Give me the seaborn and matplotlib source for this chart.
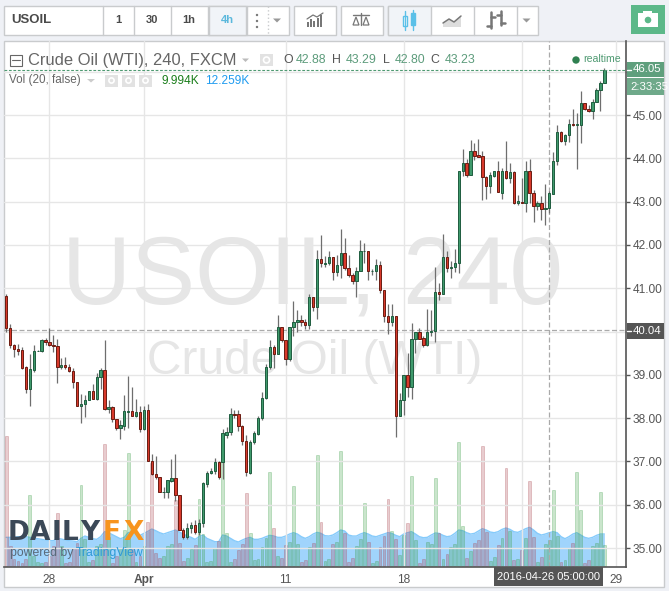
import numpy as np
import pandas as pd
import matplotlib
matplotlib.use("Agg")
import matplotlib.pyplot as plt
from matplotlib.patches import Rectangle, Circle, Polygon
import seaborn as sns

# candles, 4h bars
opens = [40.82, 40.08, 39.68, 39.59, 39.57, 39.18, 38.67, 39.12, 39.55, 39.55,
         39.80, 39.75, 39.68, 39.66, 39.19, 39.22, 39.18, 39.08, 38.83, 38.29,
         38.32, 38.42, 38.62, 38.45, 38.95, 39.11, 38.22, 38.25, 37.97, 37.77,
         37.83, 38.15, 38.16, 38.04, 38.14, 37.76, 38.18, 37.02, 36.72, 36.65,
         36.29, 36.29, 36.55, 36.63, 36.23, 35.42, 35.25, 35.47, 35.53, 35.36,
         35.58, 36.49, 36.74, 36.79, 36.98, 36.98, 37.62, 37.67, 38.09, 38.09,
         37.83, 37.48, 36.74, 37.46, 37.63, 38.00, 38.46, 39.19, 39.64, 39.49,
         40.10, 39.80, 39.36, 40.10, 40.22, 40.27, 40.22, 40.16, 40.80, 40.57,
         41.68, 41.57, 41.58, 41.72, 41.37, 41.54, 41.81, 41.47, 41.30, 41.16,
         41.41, 41.85, 41.86, 41.39, 41.39, 41.54, 40.95, 40.35, 40.23, 40.35,
         38.06, 38.41, 38.99, 38.72, 39.83, 39.98, 39.85, 39.68, 40.00, 40.02,
         40.91, 40.86, 41.72, 41.46, 41.48, 41.58, 43.70, 43.89, 43.62, 44.16,
         44.07, 44.05, 43.56, 43.36, 43.60, 43.70, 43.21, 43.70, 43.54, 43.68,
         42.96, 43.00, 42.98, 43.70, 43.19, 42.89, 42.97, 42.84, 42.85, 43.18,
         43.93, 44.60, 44.39, 44.53, 44.79, 44.77, 44.78, 45.27, 45.15, 45.10,
         45.31, 45.59, 45.75]
closes = [40.08, 39.68, 39.59, 39.56, 39.17, 38.67, 39.13, 39.55, 39.56, 39.80,
          39.75, 39.68, 39.66, 39.19, 39.22, 39.18, 39.08, 38.83, 38.29, 38.32,
          38.42, 38.62, 38.45, 38.95, 39.11, 38.22, 38.25, 37.97, 37.77, 37.84,
          38.16, 38.17, 38.04, 38.14, 37.76, 38.18, 37.02, 36.71, 36.64, 36.29,
          36.30, 36.57, 36.63, 36.23, 35.42, 35.25, 35.47, 35.53, 35.36, 35.58,
          36.50, 36.74, 36.79, 36.98, 36.64, 37.66, 37.67, 38.10, 38.08, 37.83,
          37.48, 36.76, 37.46, 37.65, 38.00, 38.46, 39.19, 39.64, 39.49, 40.10,
          39.80, 39.36, 40.10, 40.22, 40.27, 40.22, 40.16, 40.80, 40.57, 41.68,
          41.58, 41.58, 41.72, 41.37, 41.54, 41.81, 41.47, 41.30, 41.16, 41.41,
          41.86, 41.86, 41.39, 41.40, 41.54, 40.95, 40.35, 40.23, 40.35, 38.06,
          38.41, 38.99, 38.72, 39.83, 39.99, 39.84, 39.68, 40.00, 40.02, 40.91,
          40.86, 41.72, 41.46, 41.49, 41.58, 43.70, 43.89, 43.62, 44.16, 44.06,
          44.04, 43.56, 43.36, 43.61, 43.70, 43.22, 43.70, 43.54, 43.68, 42.96,
          43.01, 42.98, 43.70, 43.19, 42.89, 42.97, 42.84, 42.85, 43.20, 43.93,
          44.60, 44.39, 44.53, 44.79, 44.78, 44.79, 45.27, 45.15, 45.10, 45.31,
          45.59, 45.75, 46.03]
highs = [40.87, 40.18, 39.72, 39.71, 39.65, 39.21, 39.48, 39.68, 39.57, 39.82,
         39.85, 40.08, 39.92, 39.82, 39.38, 39.41, 39.25, 39.15, 38.83, 38.55,
         38.54, 38.63, 38.79, 39.04, 39.15, 39.80, 38.42, 38.27, 37.98, 37.96,
         38.54, 38.97, 38.72, 38.45, 38.29, 38.28, 38.33, 37.17, 37.12, 36.65,
         36.42, 36.57, 37.05, 37.17, 36.23, 35.46, 35.58, 35.60, 35.66, 35.67,
         36.53, 36.78, 36.86, 37.08, 37.02, 37.74, 37.80, 38.23, 38.20, 38.20,
         37.85, 37.60, 37.50, 37.70, 38.04, 38.60, 39.24, 39.81, 39.70, 40.39,
         40.10, 39.80, 40.10, 40.71, 40.50, 40.39, 40.30, 40.87, 40.80, 41.89,
         42.22, 41.75, 41.87, 41.72, 41.78, 42.37, 42.16, 41.78, 41.36, 41.50,
         42.12, 42.05, 41.86, 41.44, 41.68, 41.63, 40.95, 40.64, 40.64, 40.35,
         38.59, 38.99, 39.50, 40.20, 39.99, 40.09, 39.89, 40.52, 40.50, 41.50,
         41.12, 42.25, 41.87, 41.62, 41.90, 43.70, 44.22, 43.98, 44.42, 44.36,
         44.44, 44.18, 43.60, 43.69, 43.72, 43.94, 43.77, 44.40, 43.89, 43.70,
         43.15, 43.55, 43.94, 43.99, 43.27, 43.01, 43.12, 43.40, 43.24, 44.14,
         44.77, 44.63, 44.56, 44.91, 45.14, 45.04, 45.55, 45.29, 45.23, 45.38,
         45.63, 45.78, 46.08]
lows = [39.98, 39.63, 39.42, 39.46, 39.14, 38.59, 38.29, 39.07, 39.54, 39.53,
        39.68, 39.67, 39.53, 38.82, 39.14, 39.14, 39.06, 38.69, 38.29, 37.88,
        38.02, 38.41, 38.45, 38.41, 38.68, 38.18, 38.12, 37.92, 37.72, 37.53,
        37.72, 37.78, 38.04, 38.02, 37.67, 37.73, 37.00, 36.69, 36.59, 36.29,
        36.16, 36.16, 36.53, 36.09, 35.42, 35.22, 35.22, 35.35, 35.33, 35.30,
        35.49, 36.42, 36.72, 36.71, 36.59, 36.60, 37.54, 37.60, 38.00, 37.70,
        37.38, 36.67, 36.72, 37.40, 37.62, 37.96, 38.44, 39.13, 39.15, 39.49,
        39.77, 39.22, 39.31, 39.89, 39.98, 40.12, 40.07, 40.05, 40.47, 40.28,
        41.50, 41.50, 41.54, 41.20, 41.28, 41.24, 41.43, 41.26, 41.11, 40.81,
        41.41, 41.58, 41.18, 41.30, 41.20, 40.89, 40.21, 39.95, 40.12, 37.57,
        38.06, 38.08, 38.48, 38.44, 39.50, 39.83, 39.65, 39.67, 39.90, 39.75,
        40.73, 40.86, 41.38, 41.24, 41.37, 41.36, 43.60, 43.58, 43.62, 43.96,
        44.04, 43.03, 43.06, 43.20, 43.58, 43.22, 43.07, 43.52, 43.44, 42.94,
        42.92, 42.98, 42.77, 42.98, 42.54, 42.80, 42.58, 42.47, 42.73, 43.18,
        43.84, 44.37, 44.31, 44.37, 44.75, 43.75, 44.36, 45.12, 45.07, 44.91,
        45.30, 45.10, 45.74]

# volume and its average, same units (height in the picture)
volume = [390, 60, 20, 15, 10, 20, 212, 30, 12, 10, 12, 30, 60, 158, 60, 10, 12, 55,
          70, 242, 80, 12, 18, 60, 65, 366, 88, 8, 30, 50, 108, 338, 50, 12, 30, 60,
          131, 308, 40, 25, 30, 60, 65, 198, 70, 15, 25, 50, 62, 201, 95, 12, 15, 55,
          75, 318, 100, 11, 20, 48, 66, 218, 98, 18, 20, 56, 83, 281, 113, 30, 23, 62,
          71, 239, 65, 11, 18, 56, 68, 332, 131, 16, 20, 66, 71, 344, 98, 11, 24, 60,
          80, 188, 71, 8, 16, 56, 90, 200, 104, 80, 32, 92, 128, 269, 78, 8, 21, 71,
          65, 263, 98, 21, 35, 56, 66, 371, 120, 23, 44, 68, 78, 360, 103, 15, 26, 63,
          85, 293, 105, 18, 20, 48, 83, 254, 86, 11, 26, 66, 78, 227, 90, 11, 18, 53,
          68, 281, 168, 8, 18, 60, 68, 221, 62]
vol_ma = [86, 86, 86, 88, 88, 88, 86, 84, 82, 80, 78, 76, 76, 83, 81, 78, 76, 75,
          73, 83, 90, 86, 82, 80, 88, 103, 100, 94, 88, 82, 86, 100, 102, 96, 92, 98,
          104, 111, 106, 100, 96, 100, 104, 108, 102, 96, 90, 86, 80, 88, 93, 83, 78, 73,
          73, 93, 90, 83, 76, 72, 78, 83, 86, 80, 80, 83, 88, 92, 90, 86, 86, 90,
          96, 100, 96, 88, 83, 88, 96, 101, 98, 91, 90, 93, 100, 108, 105, 93, 90, 90,
          96, 100, 96, 90, 88, 92, 96, 100, 98, 92, 88, 96, 100, 103, 96, 88, 85, 86,
          93, 99, 98, 92, 88, 90, 98, 108, 106, 100, 96, 98, 105, 112, 108, 102, 100, 103,
          110, 114, 110, 103, 101, 106, 112, 116, 108, 98, 93, 96, 100, 103, 100, 88, 82, 88,
          96, 100, 93, 86, 83, 86, 92, 96, 96]

price_ticks = [35, 36, 37, 38, 39, 40, 41, 42, 43, 44, 45, 46]
price_labels = ["35.00", "36.00", "37.00", "38.00", "39.00", "", "41.00", "42.00",
                "43.00", "44.00", "45.00", ""]
date_ticks = [11, 35, 71, 101, 131, 155]
date_labels = ["28", "Apr", "11", "18", "", "29"]
last_price = 46.05
cross_price = 40.04
cross_bar = 138

W, H = 669, 591
OUTER = "#eff1f6"
LINE = "#c9cbcd"
TEXT = "#555555"
GREEN_TXT = "#5d9c7c"

sns.set_style("white")
plt.rcParams["font.family"] = ["Liberation Sans", "DejaVu Sans"]

df = pd.DataFrame({"open": opens, "close": closes, "high": highs, "low": lows,
                   "vol": volume, "ma": vol_ma})
df["bar"] = np.arange(len(df))
df["up"] = df["close"] >= df["open"]

fig = plt.figure(figsize=(W / 100, H / 100), dpi=100, facecolor=OUTER)


def pixel_axes(zorder):
    a = fig.add_axes([0, 0, 1, 1], zorder=zorder)
    a.set_xlim(0, W)
    a.set_ylim(H, 0)
    a.axis("off")
    return a


# panel and watermark go under the chart
back = pixel_axes(0)
back.add_patch(Rectangle((3.5, 40.5), 660.5, 546, fc="white", ec=LINE, lw=1))
back.text(312, 279, "USOIL, 240", fontsize=69, color="#e6e6e6", ha="center", va="center")
back.text(315, 362, "Crude Oil (WTI)", fontsize=34.5, color="#e6e6e6", ha="center", va="center")

left, right, top, bottom = 4, 626, 40.6, 566.7
ax = fig.add_axes([left / W, 1 - bottom / H, (right - left) / W, (bottom - top) / H], zorder=2)
ax.patch.set_visible(False)
vol_ax = fig.add_axes(ax.get_position(), zorder=1)
vol_ax.patch.set_visible(False)

# volume pane
vol_ax.fill_between(df["bar"], df["ma"], color="#7cc4fb", alpha=0.72, lw=0, zorder=1)
sns.lineplot(data=df, x="bar", y="ma", color="#86cbfb", lw=1, ax=vol_ax, zorder=1.5)
for is_up, fill, edge in [(True, "#3ca046", "#3ca046"), (False, "#aa4650", "#aa4650")]:
    sns.barplot(data=df[df["up"] == is_up], x="bar", y="vol", color=fill, saturation=1,
                native_scale=True, width=0.72, edgecolor=edge, linewidth=0.7, alpha=0.27,
                zorder=2, ax=vol_ax)
vol_ax.set_xlim(-0.56, 157.5)
vol_ax.set_ylim(-2, 1576)
vol_ax.axis("off")

# candles
ax.vlines(df["bar"], df["low"], df["high"], color="#6e6e6e", lw=0.9, zorder=3)
body_low = df[["open", "close"]].min(axis=1)
body_high = df[["open", "close"]].max(axis=1)
for is_up, fill, edge in [(True, "#3f9a6c", "#1f5c3f"), (False, "#d8392b", "#6a1c12")]:
    m = df["up"] == is_up
    ax.bar(df["bar"][m], (body_high - body_low)[m], bottom=body_low[m], width=0.6,
           color=fill, edgecolor=edge, linewidth=0.7, zorder=4)

ax.set_xlim(-0.56, 157.5)
ax.set_ylim(34.57, 46.72)
ax.set_yticks(price_ticks)
ax.set_yticklabels(price_labels)
ax.set_xticks(date_ticks)
ax.set_xticklabels(date_labels)
ax.yaxis.tick_right()
ax.tick_params(axis="both", length=3, width=1, color=TEXT, labelcolor=TEXT, labelsize=8.6, pad=2)
ax.get_xticklabels()[1].set_fontweight("bold")
ax.grid(True, color="#e6e6e6", lw=1)
ax.set_axisbelow(True)
for side in ["top", "left"]:
    ax.spines[side].set_visible(False)
for side in ["right", "bottom"]:
    ax.spines[side].set_color(TEXT)
    ax.spines[side].set_linewidth(1.2)
ax.axhline(last_price, color="#4f9a72", lw=0.8, ls=(0, (2.5, 1.5)), zorder=5)
ax.axhline(cross_price, color="#aaaaaa", lw=0.9, ls=(0, (4, 2)), zorder=2)
ax.axvline(cross_bar, color="#aaaaaa", lw=0.9, ls=(0, (4, 2)), zorder=2)

# everything around the chart, in pixels
top_ax = pixel_axes(3)


def box(x0, y0, x1, y1, fc="white", ec=LINE, lw=1):
    p = Rectangle((x0, y0), x1 - x0, y1 - y0, fc=fc, ec=ec, lw=lw)
    top_ax.add_patch(p)
    return p


def label(x, y, s, color=TEXT, size=8, ha="left", **kw):
    return top_ax.text(x, y, s, color=color, fontsize=size, ha=ha, va="center", **kw)


def triangle(x, y, w=8, h=4, color="#999999"):
    top_ax.add_patch(Polygon([(x, y), (x + w, y), (x + w / 2, y + h)], fc=color, ec="none"))


# toolbar
box(3.5, 5.5, 288.5, 34.5)
box(208, 5.5, 246, 34.5, fc="#f1f4f8")
for x in [102, 133, 170, 208, 246]:
    top_ax.plot([x + 0.5, x + 0.5], [5.5, 34.5], color=LINE, lw=1)
top_ax.plot([267.5, 267.5], [6, 34], color=LINE, lw=1, ls=":")
label(11, 20, "USOIL", color="#4a4a4a", size=9.5, fontweight="bold")
for x, s in [(118, "1"), (152, "30"), (189, "1h")]:
    label(x, 20, s, color="#4a4a4a", size=8, ha="center", fontweight="bold")
label(227, 20, "4h", color="#5bb8dc", size=8, ha="center", fontweight="bold")
for y in [15, 21, 27]:
    top_ax.add_patch(Circle((257, y), 1.2, fc="#777777", ec="none"))
triangle(273, 18.5)
box(293.5, 5.5, 335.5, 34.5)
for i, h in enumerate([5, 8, 6, 9, 12]):
    top_ax.add_patch(Rectangle((307 + i * 3.2, 27 - h), 2, h, fc="#777777", ec="none"))
top_ax.plot([307, 313, 317, 323], [19, 15, 17, 13], color="#777777", lw=0.9)
box(340.5, 5.5, 382.5, 34.5)
top_ax.plot([353, 369], [15, 15], color="#777777", lw=1)
top_ax.plot([361, 361], [13, 25], color="#777777", lw=1)
for x in [356, 366]:
    top_ax.add_patch(Polygon([(x - 3, 25), (x, 17), (x + 3, 25)], fc="white", ec="#777777", lw=0.9))
box(387.5, 5.5, 537.5, 34.5)
box(387.5, 5.5, 430.5, 34.5, fc="#f1f4f8")
for x in [473, 516]:
    top_ax.plot([x + 0.5, x + 0.5], [5.5, 34.5], color=LINE, lw=1)
top_ax.plot([405, 405], [11, 30], color="#5bc0e8", lw=1)
top_ax.plot([413, 413], [10, 30], color="#5bc0e8", lw=1)
top_ax.add_patch(Rectangle((403, 16), 4, 10, fc="white", ec="#5bc0e8", lw=1))
top_ax.add_patch(Rectangle((411, 13), 4, 12, fc="#5bc0e8", ec="#5bc0e8", lw=1))
top_ax.add_patch(Polygon([(443, 27), (443, 23), (449, 19), (454, 22), (461, 16), (461, 27)],
                         fc="#dddddd", ec="none"))
top_ax.plot([443, 449, 454, 461], [23, 19, 22, 16], color="#777777", lw=1.1)
top_ax.plot([491, 491], [12, 28], color="#777777", lw=1.8)
top_ax.plot([487, 491], [26, 26], color="#777777", lw=1.8)
top_ax.plot([491, 495], [17, 17], color="#777777", lw=1.8)
top_ax.plot([501, 501], [11, 25], color="#777777", lw=1.8)
top_ax.plot([497, 501], [15, 15], color="#777777", lw=1.8)
top_ax.plot([501, 505], [23, 23], color="#777777", lw=1.8)
triangle(522.5, 18.5)
top_ax.add_patch(Rectangle((631, 5), 34, 29, fc="#5cb889", ec="none"))
top_ax.add_patch(Rectangle((638, 13), 20, 14, fc="white", ec="none"))
top_ax.add_patch(Rectangle((643, 11), 9, 3, fc="white", ec="none"))
top_ax.add_patch(Circle((648, 20), 4, fc="#5cb889", ec="white", lw=1))

# legend lines
box(9.5, 54.5, 21.5, 65.5, fc="white", ec="#666666", lw=0.8)
top_ax.plot([11.5, 19.5], [60, 60], color="#666666", lw=0.8)
label(28, 60, "Crude Oil (WTI), 240, FXCM", color="#666666", size=11.9)
triangle(242, 58.5, w=7, h=3.5, color="#bbbbbb")
box(260, 54, 273, 66, fc="#e2e2e2", ec="none")
top_ax.add_patch(Circle((266.5, 60), 3, fc="#e2e2e2", ec="white", lw=1.2))
for x, s, col in [(283, "O", TEXT), (296, "42.88", GREEN_TXT), (332, "H", TEXT), (346, "43.29", GREEN_TXT),
                  (383, "L", TEXT), (395, "42.80", GREEN_TXT), (430, "C", TEXT), (445, "43.23", GREEN_TXT)]:
    label(x, 60, s, color=col, size=8.9)
top_ax.add_patch(Circle((576, 60), 3.7, fc="#2f8050", ec="none"))
label(583, 59.5, "realtime", color="#4f9a72", size=7.6)
label(9, 80, "Vol (20, false)", color="#666666", size=8.4)
triangle(87, 79, w=8, h=3.5, color="#cccccc")
for x in [105, 122, 139]:
    box(x, 74.5, x + 13, 86.5, fc="#e2e2e2", ec="none")
    top_ax.add_patch(Circle((x + 6.5, 80.5), 2.6, fc="#e2e2e2", ec="white", lw=1.2))
label(161, 80.5, "9.994K", color="#1a7d1a", size=8.6)
label(205, 80.5, "12.259K", color="#1e9bf0", size=8.6)

# price and time flags
box(627, 62, 664, 77, fc="#5f9f7d", ec="none")
label(647, 69.5, "46.05", color="white", size=8.2, ha="center")
top_ax.plot([627, 631], [69.5, 69.5], color="white", lw=1)
clock = box(627, 78, 664, 95, fc="#6fa98a", ec="none")
label(630, 87, "2:33:35", color="white", size=8.2, clip_path=clock)
box(627, 323, 664, 339, fc="#555555", ec="none")
top_ax.plot([627, 631], [331, 331], color="white", lw=1)
label(647, 331, "40.04", color="white", size=8.2, ha="center")
box(494, 567, 603, 586, fc="#555555", ec="none")
label(548.5, 577, "2016-04-26 05:00:00", color="white", size=8, ha="center")

# logo, letters placed one by one because the original is letter-spaced
for s, x in [("D", 19), ("A", 40), ("I", 56.5), ("L", 70), ("Y", 90)]:
    label(x, 532.5, s, color="#3b4857", size=19, ha="center", fontweight="bold", family="DejaVu Sans")
for s, x in [("F", 112), ("X", 134)]:
    label(x, 532.5, s, color="#f7941e", size=19, ha="center", fontweight="bold", family="DejaVu Sans")
label(10, 553, "powered by", color="#5a6a7a", size=8.8)
label(76, 553, "TradingView", color="#2f9bd6", size=8.8)

fig.savefig("out.png", dpi=100, facecolor=OUTER)
